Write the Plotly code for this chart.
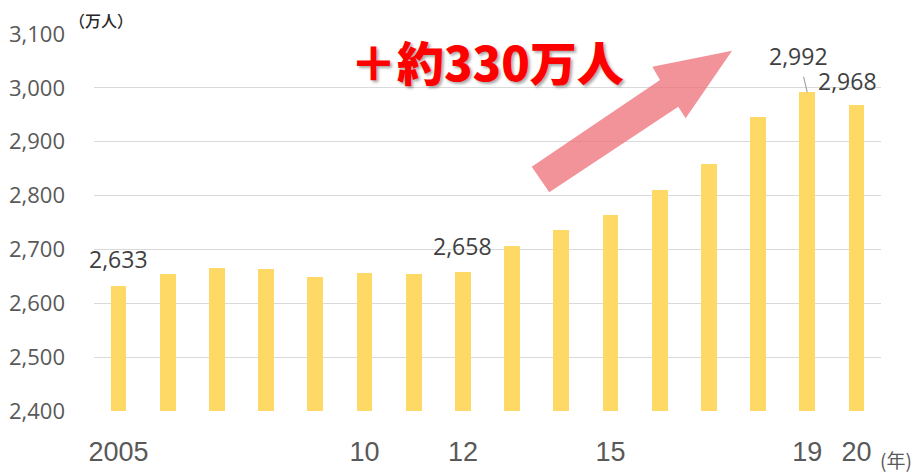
import plotly.graph_objects as go

# ---- data ----
years = list(range(2005, 2021))
values = [2633, 2654, 2665, 2664, 2649, 2656, 2654, 2658,
          2707, 2736, 2764, 2810, 2859, 2946, 2992, 2968]
tick_text = ["2005", "", "", "", "", "10", "", "12", "", "", "15", "", "", "", "19", "20"]
labeled = {2005: "2,633", 2012: "2,658", 2019: "2,992", 2020: "2,968"}

# page body has an 8px margin: compensate so the picture lands on target pixels
OFF = 8
W, H = 923 - OFF, 475 - OFF
L, R, T, B = 94 - OFF, 42, 34 - OFF, 64
PW, PH = W - L - R, H - T - B


def px(x, y):
    # screen pixel -> paper coordinate
    return (x - OFF - L) / PW, (H - B - (y - OFF)) / PH


fig = go.Figure()
fig.add_trace(go.Bar(
    x=years, y=values, width=0.32,
    marker=dict(color="#FFD966", line=dict(width=0)),
    hoverinfo="x+y",
))

# data labels
label_font = dict(family="Open Sans, Liberation Sans, sans-serif", size=23, color="#404040")
fig.add_annotation(x=2005, y=values[0], text=labeled[2005], showarrow=False,
                   yanchor="middle", yshift=27, font=label_font)
fig.add_annotation(x=2012, y=values[7], text=labeled[2012], showarrow=False,
                   yanchor="middle", yshift=26, font=label_font)
fig.add_annotation(x=2019, y=values[14], text=labeled[2019], showarrow=True,
                   arrowhead=0, arrowwidth=1.2, arrowcolor="#a6a6a6",
                   ax=-8.5, ay=-36, startstandoff=3, font=label_font)
fig.add_annotation(x=2020, y=values[15], text=labeled[2020], showarrow=False,
                   yanchor="middle", xshift=-9, yshift=24, font=label_font)

# unit labels
fx, fy = px(101, 20)
fig.add_annotation(xref="paper", yref="paper", x=fx, y=fy, text="（万人）",
                   xanchor="center", yanchor="middle",
                   showarrow=False,
                   font=dict(family="Noto Sans CJK JP", size=16, color="#262626", weight=500))
fx, fy = px(896, 459)
fig.add_annotation(xref="paper", yref="paper", x=fx, y=fy, text="(年)",
                   xanchor="center", yanchor="middle",
                   showarrow=False, font=dict(family="Noto Sans CJK JP", size=19, color="#595959"))

# big red headline
fx, fy = px(486.5, 60)
fig.add_annotation(xref="paper", yref="paper", x=fx, y=fy, text="＋約330万人",
                   xanchor="center", yanchor="middle",
                   showarrow=False,
                   font=dict(family="Noto Sans CJK JP", size=47, color="#FF0000", weight=900,
                             shadow="2px 2px 3px rgba(0,0,0,0.35)"))

# arrow
pts = [(531.7, 166.7), (660, 80), (652.3, 66.7), (732, 50.7),
       (685.7, 118.3), (678.3, 106.7), (549.3, 192.3)]
path = "M " + " L ".join("%.4f,%.4f" % px(x, y) for x, y in pts) + " Z"
fig.add_shape(type="path", xref="paper", yref="paper", path=path,
              fillcolor="#EE6F77", opacity=0.75, line=dict(width=0), layer="above")

fig.update_layout(
    width=W, height=H,
    margin=dict(l=L, r=R, t=T, b=B),
    paper_bgcolor="white", plot_bgcolor="white",
    showlegend=False,
    bargap=0,
    xaxis=dict(
        range=[2004.5, 2020.5], tickvals=years, ticktext=tick_text,
        showgrid=False, zeroline=False, showline=False, ticks="",
        automargin=False,
        ticklabelstandoff=22,
        tickfont=dict(family="Liberation Sans Narrow, Liberation Sans, sans-serif", size=27, color="#595959"),
    ),
    yaxis=dict(
        range=[2400, 3100], dtick=100, tick0=2400, tickformat=",",
        showgrid=True, gridcolor="#d9d9d9", gridwidth=1.3,
        zeroline=False, showline=False, ticks="",
        automargin=False,
        ticklabelstandoff=28,
        tickfont=dict(family="Open Sans, Liberation Sans, sans-serif", size=22, color="#595959"),
    ),
)

fig.write_html("out.html")
